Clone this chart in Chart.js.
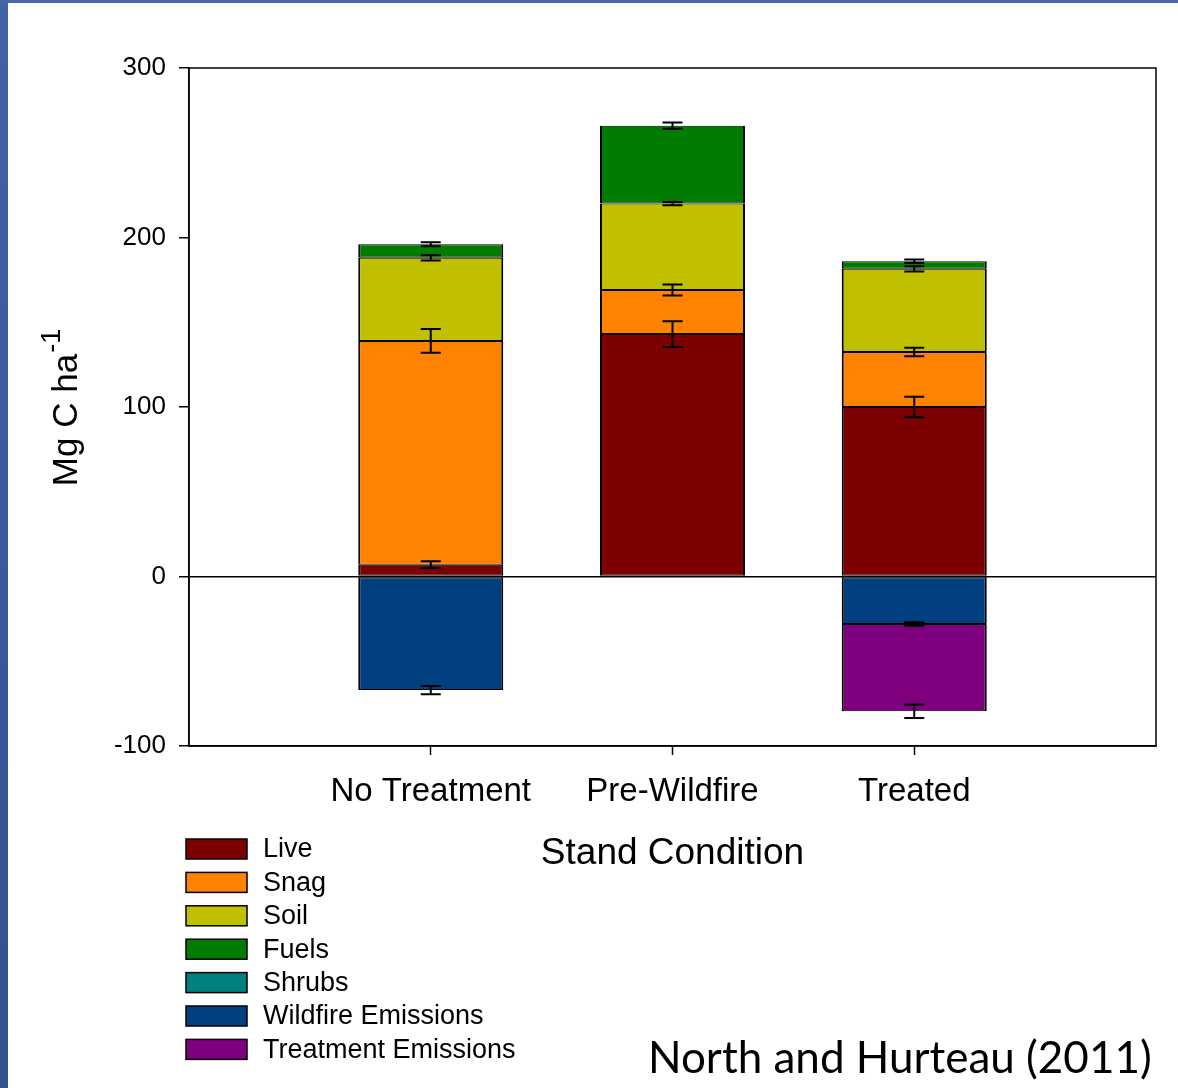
<!DOCTYPE html>
<html>
<head>
<meta charset="utf-8">
<script src="https://cdn.jsdelivr.net/npm/chart.js@4.4.1/dist/chart.umd.min.js"></script>
<style>
  html, body { margin: 0; padding: 0; background: #fff; }
  #wrap { position: relative; width: 1178px; height: 1088px; overflow: hidden; background: #fff; }
  canvas { position: absolute; left: 0; top: 0; }
  .edge-left { position: absolute; left: 0; top: 0; width: 8px; height: 1088px; background: linear-gradient(#4262a6, #33508f); }
  .edge-top { position: absolute; left: 0; top: 0; width: 1178px; height: 3px; background: #4866a9; }
  .credit { position: absolute; left: 648px; top: 1030px; font-family: Lato, "Open Sans", sans-serif; font-size: 44px; color: #000; white-space: nowrap; }
</style>
</head>
<body>
<div id="wrap">
  <canvas id="carbonChart" width="1178" height="1088"></canvas>
  <div class="edge-left"></div>
  <div class="edge-top"></div>
  <div class="credit">North and Hurteau (2011)</div>
</div>
<script>
// Dados (Mg C / ha)
const stands = ['No Treatment', 'Pre-Wildfire', 'Treated'];
const yTicks = [-100, 0, 100, 200, 300];

const live = [7, 143, 100];
const snag = [132, 26, 32.5];
const soil = [49, 51, 49];
const fuels = [8, 46, 4.5];
const shrubs = [0, 0, 0];
const wildfire = [-67, 0, -28];
const treatment = [0, 0, -51.5];

const liveErr = [2, 7.6, 6];
const snagErr = [7, 3.2, 2.5];
const soilErr = [1.5, 1, 1.6];
const fuelsErr = [1.2, 1.8, 1];
const shrubsErr = [0, 0, 0];
const wildfireErr = [2.4, 0, 1];
const treatmentErr = [0, 0, 4];

const FONT = '"Liberation Sans", Arial, sans-serif';

const pools = [
    { label: 'Live', values: live, err: liveErr, color: '#7c0000' },
    { label: 'Snag', values: snag, err: snagErr, color: '#ff8200' },
    { label: 'Soil', values: soil, err: soilErr, color: '#c0c000' },
    { label: 'Fuels', values: fuels, err: fuelsErr, color: '#007c00' },
    { label: 'Shrubs', values: shrubs, err: shrubsErr, color: '#008080' },
    { label: 'Wildfire Emissions', values: wildfire, err: wildfireErr, color: '#003f80' },
    { label: 'Treatment Emissions', values: treatment, err: treatmentErr, color: '#7e007e' }
];

// Barras de erro no topo de cada segmento
const errorBars = {
    id: 'errorBars',
    afterDatasetsDraw(chart) {
        const { ctx } = chart;
        const yScale = chart.scales.y;
        ctx.save();
        ctx.strokeStyle = '#000';
        ctx.lineWidth = 2;
        chart.data.datasets.forEach((ds, i) => {
            chart.getDatasetMeta(i).data.forEach((bar, j) => {
                const e = ds.errors[j];
                if (!e || !ds.data[j].y) return;
                const end = yScale.getValueForPixel(bar.y);
                const hi = yScale.getPixelForValue(end + e);
                const lo = yScale.getPixelForValue(end - e);
                ctx.beginPath();
                ctx.moveTo(bar.x, hi); ctx.lineTo(bar.x, lo);
                ctx.moveTo(bar.x - 10, hi); ctx.lineTo(bar.x + 10, hi);
                ctx.moveTo(bar.x - 10, lo); ctx.lineTo(bar.x + 10, lo);
                ctx.stroke();
            });
        });
        ctx.restore();
    }
};

// Moldura, títulos dos eixos e legenda
const frame = {
    id: 'frame',
    afterDraw(chart) {
        const { ctx, chartArea: a } = chart;
        ctx.save();
        ctx.strokeStyle = '#000';
        ctx.lineWidth = 1.5;
        ctx.strokeRect(a.left, a.top, a.right - a.left, a.bottom - a.top);

        ctx.fillStyle = '#000';
        ctx.font = '37px ' + FONT;
        ctx.textAlign = 'center';
        ctx.textBaseline = 'middle';
        ctx.fillText('Stand Condition', (a.left + a.right) / 2, 854);

        // Título do eixo y com sobrescrito
        ctx.translate(77, (a.top + a.bottom) / 2 + 1);
        ctx.rotate(-Math.PI / 2);
        ctx.textAlign = 'left';
        ctx.textBaseline = 'alphabetic';
        ctx.font = '35px ' + FONT;
        const main = 'Mg C ha';
        const w1 = ctx.measureText(main).width;
        ctx.font = '27px ' + FONT;
        const w2 = ctx.measureText('-1').width;
        const x0 = -(w1 + w2) / 2;
        ctx.font = '35px ' + FONT;
        ctx.fillText(main, x0, 0);
        ctx.font = '27px ' + FONT;
        ctx.fillText('-1', x0 + w1 + 1, -17);
        ctx.restore();

        ctx.save();
        ctx.font = '27px ' + FONT;
        ctx.textBaseline = 'middle';
        ctx.lineWidth = 1.5;
        chart.data.datasets.forEach((ds, i) => {
            const top = 839 + i * 33.4;
            ctx.fillStyle = ds.backgroundColor;
            ctx.fillRect(186, top, 61, 20);
            ctx.strokeStyle = '#000';
            ctx.strokeRect(186, top, 61, 20);
            ctx.fillStyle = '#000';
            ctx.fillText(ds.label, 263, top + 11);
        });
        ctx.restore();
    }
};

new Chart(document.getElementById('carbonChart'), {
    type: 'bar',
    data: {
        datasets: pools.map(p => ({
            label: p.label,
            data: p.values.map((v, i) => ({ x: i + 1, y: v })),
            errors: p.err,
            backgroundColor: p.color,
            borderColor: '#000',
            borderWidth: { top: 1, bottom: 1, left: 2, right: 2 },
            borderSkipped: false,
            barPercentage: 0.6,
            categoryPercentage: 1
        }))
    },
    options: {
        responsive: false,
        animation: false,
        layout: { padding: { top: 68, right: 22, left: 0, bottom: 0 } },
        plugins: { legend: { display: false }, tooltip: { enabled: false } },
        scales: {
            x: {
                type: 'linear',
                stacked: true,
                offset: false,
                min: 0,
                max: 4,
                afterBuildTicks: s => { s.ticks = stands.map((_, i) => ({ value: i + 1 })); },
                afterFit: s => { s.height = 342; },
                ticks: {
                    callback: v => stands[v - 1],
                    color: '#000',
                    font: { size: 33, family: FONT },
                    padding: 17,
                    maxRotation: 0
                },
                grid: { offset: false, color: 'rgba(0,0,0,0)', tickColor: '#000', tickLength: 9, tickWidth: 1.5 },
                border: { display: true, color: '#000', width: 1.5 }
            },
            y: {
                stacked: true,
                min: -100,
                max: 300,
                afterBuildTicks: s => { s.ticks = yTicks.map(v => ({ value: v })); },
                afterFit: s => { s.width = 189; },
                ticks: {
                    callback: v => String(v),
                    color: '#000',
                    font: { size: 26, family: FONT },
                    padding: 13
                },
                grid: {
                    color: c => (c.tick && c.tick.value === 0 ? '#000' : 'rgba(0,0,0,0)'),
                    lineWidth: 1.5,
                    tickColor: '#000',
                    tickLength: 10,
                    tickWidth: 1.5
                },
                border: { display: true, color: '#000', width: 1.5 }
            }
        }
    },
    plugins: [errorBars, frame]
});
</script>
</body>
</html>
